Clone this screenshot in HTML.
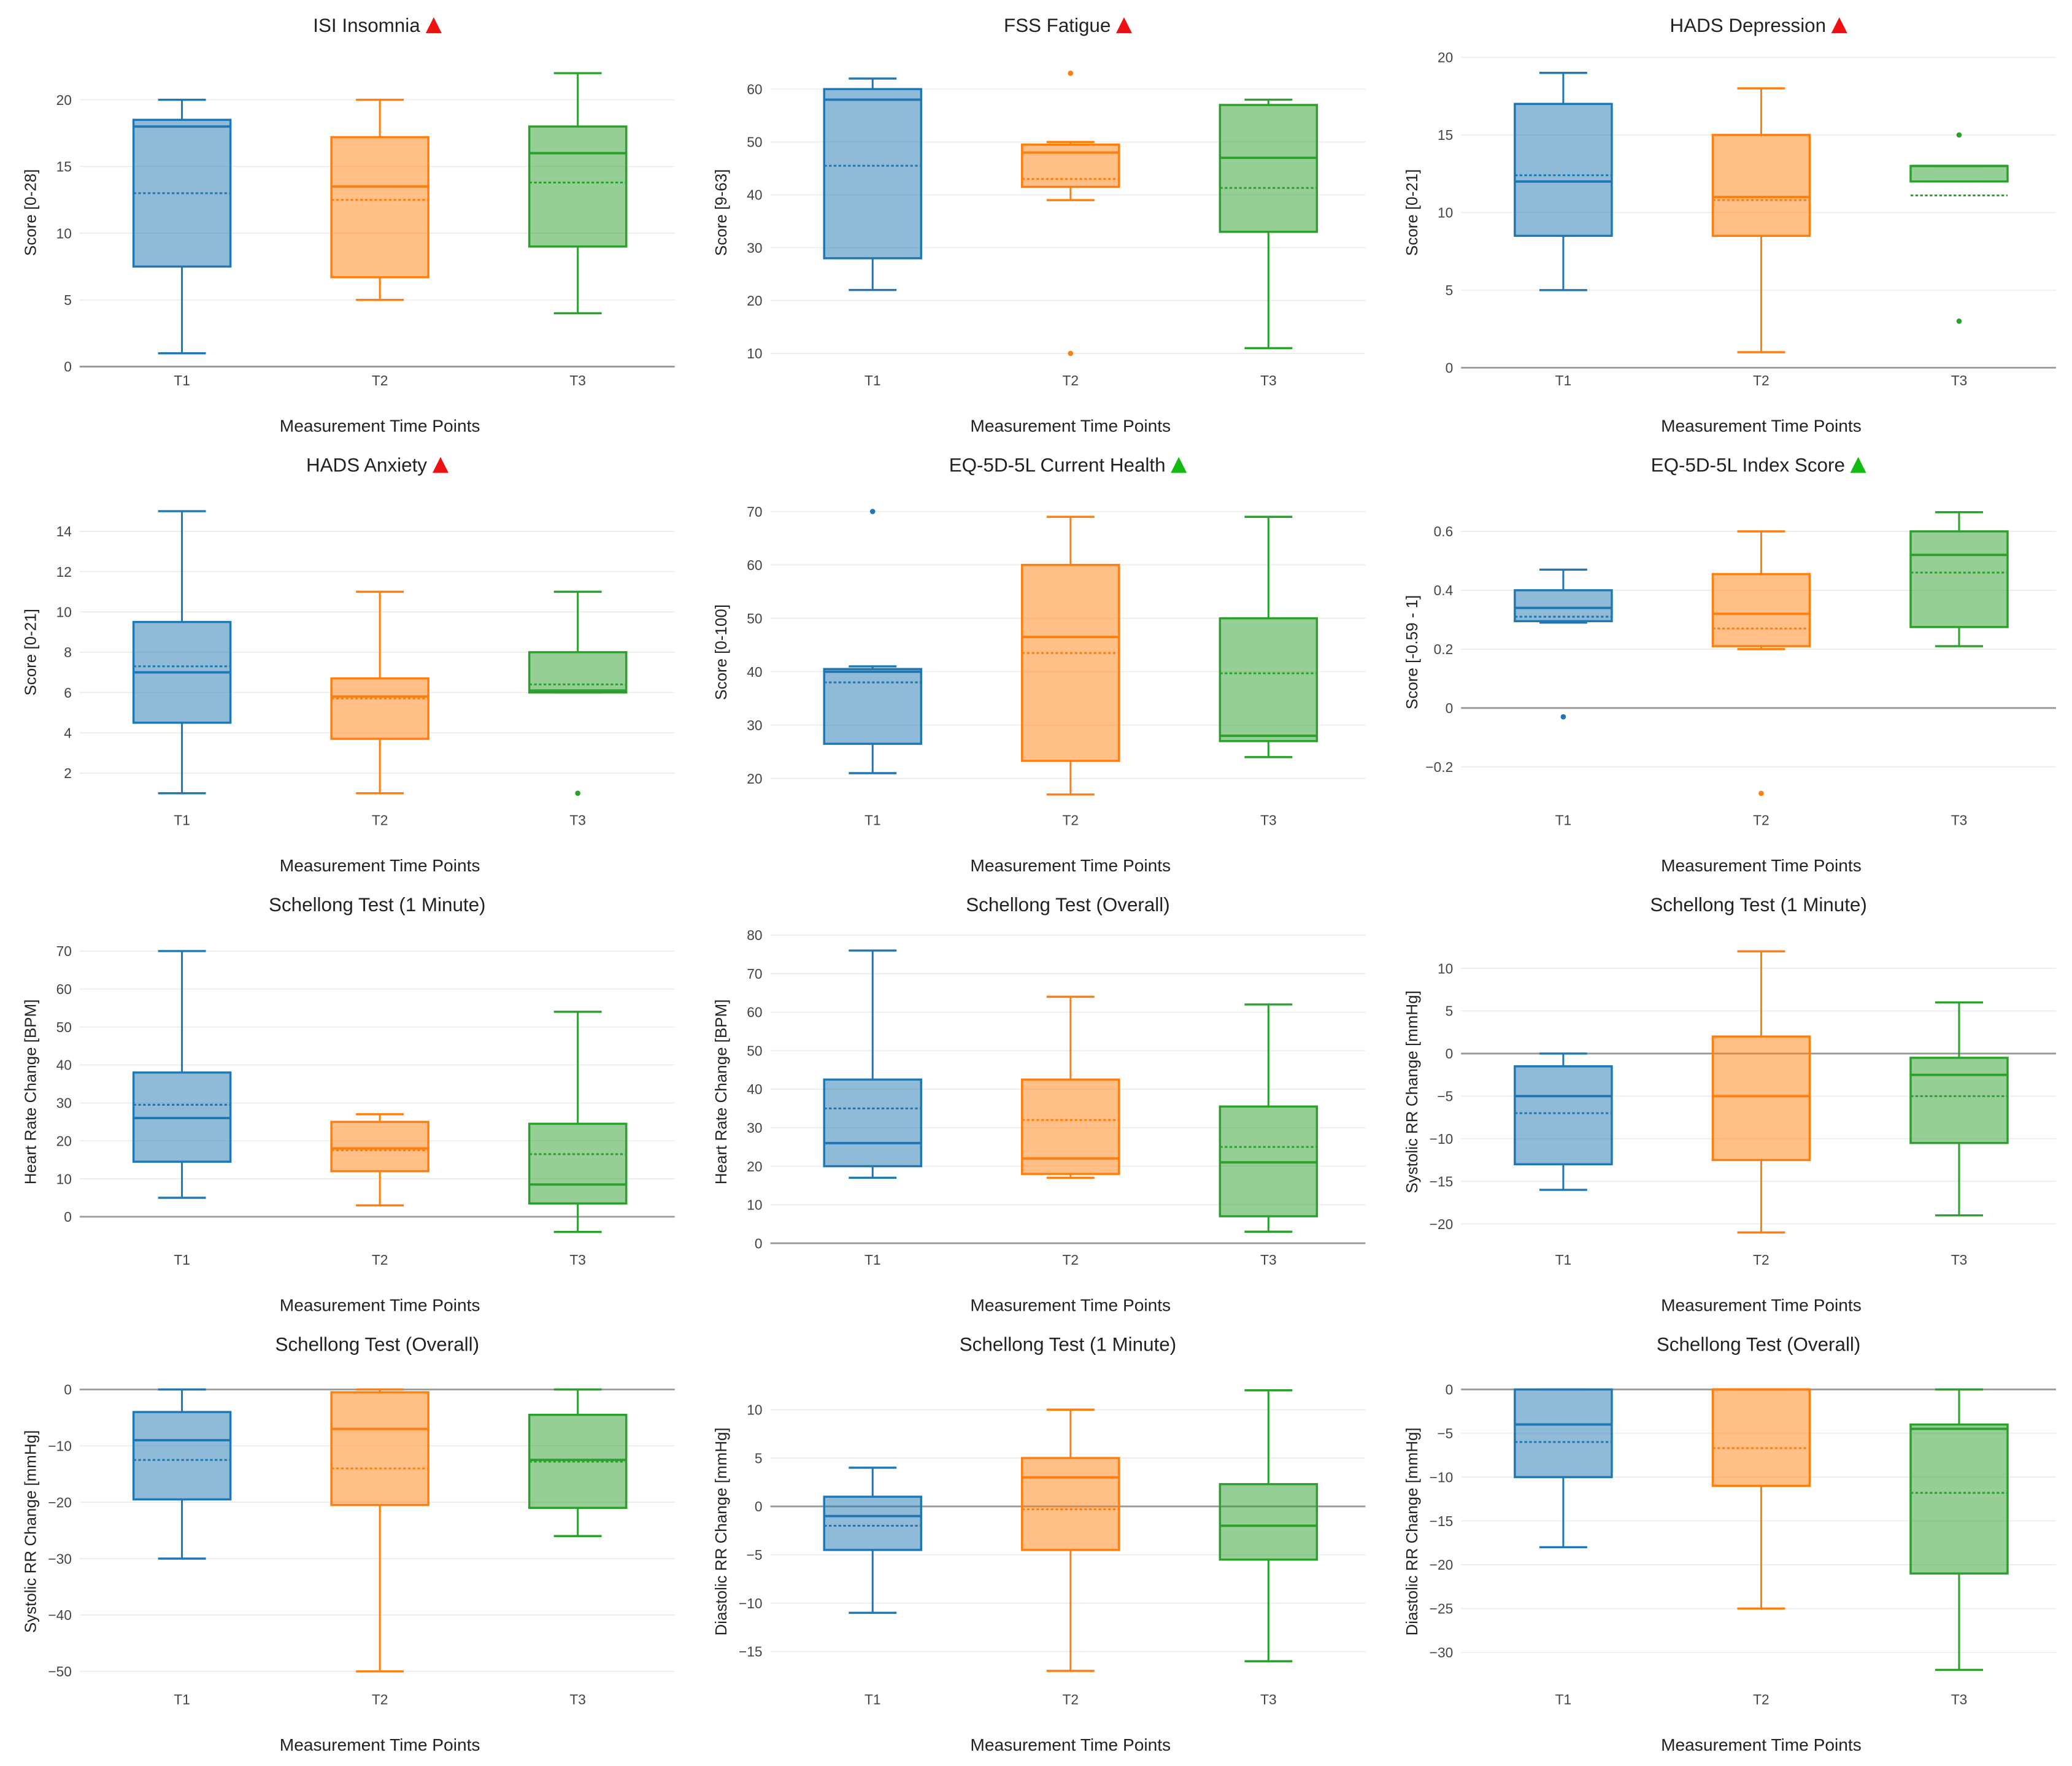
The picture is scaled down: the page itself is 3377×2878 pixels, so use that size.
<!DOCTYPE html>
<html><head><meta charset="utf-8"><style>
html,body{margin:0;padding:0;background:#fff;}
svg{display:block;font-family:"Liberation Sans",Arial,sans-serif;}
</style></head><body>
<svg id="chart" width="3377" height="2878" viewBox="0 0 1560 1329.5" xmlns="http://www.w3.org/2000/svg"></svg>
<script>
const titles = ["ISI Insomnia","FSS Fatigue","HADS Depression","HADS Anxiety","EQ-5D-5L Current Health","EQ-5D-5L Index Score","Schellong Test (1 Minute)","Schellong Test (Overall)","Schellong Test (1 Minute)","Schellong Test (Overall)","Schellong Test (1 Minute)","Schellong Test (Overall)"];
const markers = ["red","red","red","red","green","green","","","","","",""];
const yTitles = ["Score [0-28]","Score [9-63]","Score [0-21]","Score [0-21]","Score [0-100]","Score [-0.59 - 1]","Heart Rate Change [BPM]","Heart Rate Change [BPM]","Systolic RR Change [mmHg]","Systolic RR Change [mmHg]","Diastolic RR Change [mmHg]","Diastolic RR Change [mmHg]"];
const yRanges = [[-0.2,23.3],[7,66.3],[-0.1,20.1],[0.22,15.78],[14.3,73],[-0.343,0.722],[-8.4,74.2],[-1.4,80],[-22.9,13.9],[-53,2.6],[-18.8,13.6],[-34.1,1.67]];
const yTicks = [[0,5,10,15,20],[10,20,30,40,50,60],[0,5,10,15,20],[2,4,6,8,10,12,14],[20,30,40,50,60,70],[-0.2,0,0.2,0.4,0.6],[0,10,20,30,40,50,60,70],[0,10,20,30,40,50,60,70,80],[-20,-15,-10,-5,0,5,10],[-50,-40,-30,-20,-10,0],[-15,-10,-5,0,5,10],[-30,-25,-20,-15,-10,-5,0]];
const categories = ["T1","T2","T3"];
const minVals = [[1,5,4],[22,39,11],[5,1,12],[1,1,6],[21,17,24],[0.29,0.20,0.21],[5,3,-4],[17,17,3],[-16,-21,-19],[-30,-50,-26],[-11,-17,-16],[-18,-25,-32]];
const q1Vals = [[7.5,6.7,9],[28,41.5,33],[8.5,8.5,12],[4.5,3.7,6],[26.5,23.3,27],[0.295,0.21,0.275],[14.5,12,3.5],[20,18,7],[-13,-12.5,-10.5],[-19.5,-20.5,-21],[-4.5,-4.5,-5.5],[-10,-11,-21]];
const medianVals = [[18,13.5,16],[58,48,47],[12,11,13],[7,5.8,6.1],[40,46.5,28],[0.34,0.32,0.52],[26,18,8.5],[26,22,21],[-5,-5,-2.5],[-9,-7,-12.5],[-1,3,-2],[-4,0,-4.5]];
const q3Vals = [[18.5,17.2,18],[60,49.5,57],[17,15,13],[9.5,6.7,8],[40.5,60,50],[0.40,0.455,0.60],[38,25,24.5],[42.5,42.5,35.5],[-1.5,2,-0.5],[-4,-0.5,-4.5],[1,5,2.3],[0,0,-4]];
const maxVals = [[20,20,22],[62,50,58],[19,18,13],[15,11,11],[41,69,69],[0.47,0.60,0.665],[70,27,54],[76,64,62],[0,12,6],[0,0,0],[4,10,12],[0,0,0]];
const meanVals = [[13,12.5,13.8],[45.5,43,41.3],[12.4,10.8,11.1],[7.3,5.7,6.4],[38,43.5,39.7],[0.31,0.27,0.46],[29.5,17.5,16.5],[35,32,25],[-7,-5,-5],[-12.5,-14,-12.8],[-2,-0.3,-2],[-6,-6.7,-11.8]];
const outlierVals = [[[],[],[]],[[],[63,10],[]],[[],[],[15,3]],[[],[],[1]],[[70],[],[]],[[-0.03],[-0.29],[]],[[],[],[]],[[],[],[]],[[],[],[]],[[],[],[]],[[],[],[]],[[],[],[]]];

const colors = ["#1f77b4","#ff7f0e","#2ca02c"];
const fills = ["rgba(31,119,180,0.5)","rgba(255,127,14,0.5)","rgba(44,160,44,0.5)"];
const svg = document.getElementById('chart');
const NS = "http://www.w3.org/2000/svg";
function mk(tag, attrs, parent, text){
  const e = document.createElementNS(NS, tag);
  for (const k in attrs) e.setAttribute(k, attrs[k]);
  if (text !== undefined) e.textContent = text;
  parent.appendChild(e);
  return e;
}
const colX = [60,580,1100], rowOff = [0,331,662,993];
const plotW = 448, boxW = 73, capW = 36;
const catOffsets = [77,226,375];
function fmt(v){ return (Math.round(v*100)/100).toString().replace('-', '\u2212'); }

titles.forEach((title, p) => {
  const x0 = colX[p%3], off = rowOff[Math.floor(p/3)];
  const top = 42+off, bot = 278+off;
  const [ymn, ymx] = yRanges[p];
  const yS = v => bot - (v-ymn)/(ymx-ymn)*(bot-top);
  const g = mk('g', {}, svg);
  
  
  yTicks[p].forEach(t => {
    const y = yS(t);
    if (t !== 0) {
      const gl = mk('line', {x1:x0, x2:x0+plotW, y1:y, y2:y, stroke:'#ececec', 'stroke-width':0.8}, g);
      
      
    }
    const tl = mk('text', {x:x0-6, y:y+3.8, 'text-anchor':'end', 'font-size':10.5, fill:'#444'}, g, fmt(t));
    
    
  });
  if (ymn <= 0 && ymx > 0) {
    const y0 = yS(0);
    const zl = mk('line', {x1:x0, x2:x0+plotW, y1:y0, y2:y0, stroke:'#999', 'stroke-width':1.3}, g);
    
    
  }
  const tt = mk('text', {x:x0+plotW/2 - (markers[p]?8:0), y:24+off, 'text-anchor':'middle', 'font-size':14.5, fill:'#222'}, g, title);
  
  
  if (markers[p]) {
    const bb = tt.getBBox();
    const tx = bb.x + bb.width + 10;
    const tri = mk('polygon', {points:`${tx-6},${25+off} ${tx+6},${25+off} ${tx},${13+off}`, fill: markers[p]==='red' ? '#ee1111' : '#11bb11'}, g);
    
    
  }
  const xt = mk('text', {x:x0+226, y:325+off, 'text-anchor':'middle', 'font-size':13, fill:'#222'}, g, 'Measurement Time Points');
  
  
  const yc = (top+bot)/2;
  const yt = mk('text', {x:x0-33, y:yc, 'text-anchor':'middle', 'font-size':12, fill:'#222', transform:`rotate(-90 ${x0-33} ${yc})`}, g, yTitles[p]);
  
  
  categories.forEach((c, i) => {
    const cx = x0 + catOffsets[i];
    const col = colors[i];
    const xl = mk('text', {x:cx, y:290+off, 'text-anchor':'middle', 'font-size':10.5, fill:'#444'}, g, c);
    
    
    const bg = mk('g', {}, g);
    
    
    const mn = minVals[p][i], q1 = q1Vals[p][i], md = medianVals[p][i], q3 = q3Vals[p][i], mx = maxVals[p][i], me = meanVals[p][i];
    mk('line', {x1:cx, x2:cx, y1:yS(q3), y2:yS(mx), stroke:col, 'stroke-width':1.4}, bg);
    mk('line', {x1:cx, x2:cx, y1:yS(q1), y2:yS(mn), stroke:col, 'stroke-width':1.4}, bg);
    mk('line', {x1:cx-capW/2, x2:cx+capW/2, y1:yS(mx), y2:yS(mx), stroke:col, 'stroke-width':1.6}, bg);
    mk('line', {x1:cx-capW/2, x2:cx+capW/2, y1:yS(mn), y2:yS(mn), stroke:col, 'stroke-width':1.6}, bg);
    mk('rect', {x:cx-boxW/2, y:yS(q3), width:boxW, height:Math.max(0.5, yS(q1)-yS(q3)), fill:fills[i], stroke:col, 'stroke-width':1.6}, bg);
    mk('line', {x1:cx-boxW/2, x2:cx+boxW/2, y1:yS(md), y2:yS(md), stroke:col, 'stroke-width':1.8}, bg);
    mk('line', {x1:cx-boxW/2, x2:cx+boxW/2, y1:yS(me), y2:yS(me), stroke:col, 'stroke-width':1.4, 'stroke-dasharray':'2,1.6'}, bg);
    outlierVals[p][i].forEach(o => {
      const dot = mk('circle', {cx:cx, cy:yS(o), r:2, fill:col}, bg);
      
      
    });
  });
});
</script>
</body></html>
